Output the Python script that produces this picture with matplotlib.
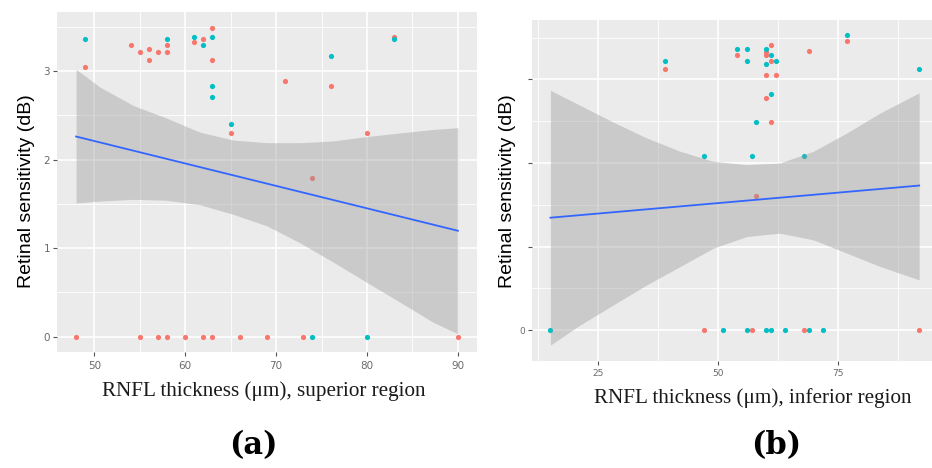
import numpy as np
import matplotlib
matplotlib.use('Agg')
import matplotlib.pyplot as plt
from matplotlib.ticker import FixedLocator

# ---------------- Data: panel (a) superior region ----------------
a_red_x = [49, 54, 55, 56, 56, 57, 58, 58, 61, 62, 63, 63, 65, 71, 74, 76, 80, 83,
           48, 55, 57, 58, 60, 62, 63, 66, 69, 73, 90]
a_red_y = [3.04, 3.29, 3.21, 3.25, 3.13, 3.21, 3.29, 3.21, 3.33, 3.36, 3.49, 3.13,
           2.30, 2.89, 1.79, 2.83, 2.30, 3.39,
           0, 0, 0, 0, 0, 0, 0, 0, 0, 0, 0]
a_cyan_x = [49, 58, 61, 62, 63, 63, 63, 65, 76, 83, 74, 80]
a_cyan_y = [3.36, 3.36, 3.39, 3.29, 3.39, 2.83, 2.71, 2.40, 3.17, 3.36, 0, 0]

a_fit_x = [48, 90]
a_fit_y = [2.26, 1.195]
a_band_x = [48, 50.6, 54.3, 57.9, 61.6, 65.3, 69.0, 72.6, 76.3, 80.0, 83.6, 87.3, 90]
a_band_hi = [3.02, 2.82, 2.61, 2.47, 2.31, 2.22, 2.19, 2.19, 2.21, 2.26, 2.30, 2.34, 2.36]
a_band_lo = [1.51, 1.53, 1.55, 1.54, 1.49, 1.38, 1.25, 1.06, 0.84, 0.61, 0.39, 0.16, 0.03]
a_xticks = [50, 60, 70, 80, 90]
a_yticks = [0, 1, 2, 3]
a_ytick_labels = ["0", "1", "2", "3"]

# ---------------- Data: panel (b) inferior region ----------------
b_red_x = [39, 54, 58, 60, 60, 60, 60, 61, 61, 61, 62, 69, 77, 47, 57, 68, 92]
b_red_y = [3.13, 3.29, 1.61, 3.33, 3.29, 3.05, 2.78, 3.41, 3.22, 2.49, 3.05, 3.34, 3.46,
           0, 0, 0, 0]
b_cyan_x = [39, 47, 54, 56, 56, 57, 58, 60, 60, 61, 61, 62, 68, 77, 92,
            15, 51, 56, 60, 61, 64, 69, 72]
b_cyan_y = [3.22, 2.08, 3.37, 3.37, 3.22, 2.08, 2.49, 3.37, 3.18, 3.29, 2.83, 3.22, 2.08,
            3.53, 3.13, 0, 0, 0, 0, 0, 0, 0, 0]

b_fit_x = [15, 92]
b_fit_y = [1.345, 1.73]
b_band_x = [15, 21.2, 28.1, 35.1, 42.1, 49.0, 56.0, 62.9, 69.9, 76.9, 83.9, 92]
b_band_hi = [2.87, 2.69, 2.49, 2.30, 2.14, 2.02, 1.98, 2.00, 2.14, 2.36, 2.60, 2.84]
b_band_lo = [-0.18, 0.06, 0.30, 0.54, 0.76, 0.98, 1.12, 1.16, 1.08, 0.92, 0.76, 0.60]
b_xticks = [25, 50, 75]
b_yticks = [0, 1, 2, 3]
b_ytick_labels = ["0", "", "", ""]

ylabel = "Retinal sensitivity (dB)"
a_xlabel = "RNFL thickness (\u03bcm), superior region"
b_xlabel = "RNFL thickness (\u03bcm), inferior region"

RED = "#F8766D"
CYAN = "#00BFC4"
BLUE = "#3366FF"
PANEL = "#EBEBEB"

W, H = 932, 468
fig = plt.figure(figsize=(W / 100, H / 100), dpi=100)
fig.patch.set_facecolor("white")


def px_axes(left, top, right, bottom):
    return fig.add_axes([left / W, 1 - bottom / H, (right - left) / W, (bottom - top) / H])


def style(ax, xlim, ylim, xticks, yticks, yticklabels, minor_x, minor_y, tick_fs, xpad):
    ax.set_facecolor(PANEL)
    for s in ax.spines.values():
        s.set_visible(False)
    ax.set_xlim(*xlim)
    ax.set_ylim(*ylim)
    ax.xaxis.set_major_locator(FixedLocator(xticks))
    ax.yaxis.set_major_locator(FixedLocator(yticks))
    ax.set_yticklabels(yticklabels)
    ax.xaxis.set_minor_locator(FixedLocator(minor_x))
    ax.yaxis.set_minor_locator(FixedLocator(minor_y))
    ax.grid(which="major", color="white", linewidth=1.2)
    ax.grid(which="minor", color="white", linewidth=0.6)
    ax.set_axisbelow(True)
    ax.tick_params(which="major", length=2.9, width=0.8, color="#555555",
                   labelcolor="#6a6a6a", labelsize=tick_fs)
    ax.tick_params(axis="x", which="major", pad=xpad)
    ax.tick_params(axis="y", which="major", pad=2)
    ax.tick_params(which="minor", length=0)


# ---------------- Panel (a) ----------------
axa = px_axes(57, 12, 477, 352)
style(axa, (45.9, 92.1), (-0.175, 3.667), a_xticks, a_yticks, a_ytick_labels,
      [55, 65, 75, 85], [0.5, 1.5, 2.5, 3.5], 7.5, 3.5)
axa.scatter(a_red_x, a_red_y, s=14, color=RED, linewidths=0, zorder=3)
axa.scatter(a_cyan_x, a_cyan_y, s=14, color=CYAN, linewidths=0, zorder=3)
axa.fill_between(a_band_x, a_band_lo, a_band_hi, color="#999999", alpha=0.4,
                 linewidth=0, zorder=4)
axa.plot(a_fit_x, a_fit_y, color=BLUE, linewidth=1.3, zorder=5)

# ---------------- Panel (b) ----------------
axb = px_axes(532, 19.7, 937.6, 360.6)
style(axb, (11.15, 95.85), (-0.366, 3.716), b_xticks, b_yticks, b_ytick_labels,
      [12.5, 37.5, 62.5, 87.5], [0.5, 1.5, 2.5, 3.5], 6.5, 3.5)
axb.scatter(b_red_x, b_red_y, s=14, color=RED, linewidths=0, zorder=3)
axb.scatter(b_cyan_x, b_cyan_y, s=14, color=CYAN, linewidths=0, zorder=3)
axb.fill_between(b_band_x, b_band_lo, b_band_hi, color="#999999", alpha=0.4,
                 linewidth=0, zorder=4)
axb.plot(b_fit_x, b_fit_y, color=BLUE, linewidth=1.3, zorder=5)

# ---------------- Text ----------------
def ftext(x, y, s, **kw):
    fig.text(x / W, 1 - y / H, s, ha="center", va="center", **kw)

ftext(27, 191, ylabel, rotation=90, fontsize=14, family="Liberation Sans", color="black")
ftext(508, 191, ylabel, rotation=90, fontsize=14, family="Liberation Sans", color="black")
ftext(264, 391, a_xlabel, fontsize=15.2, family="Liberation Serif", color="#1a1a1a")
ftext(753, 398, b_xlabel, fontsize=15.2, family="Liberation Serif", color="#1a1a1a")
ftext(253, 446, "(a)", fontsize=22, family="DejaVu Serif", weight="bold", color="black")
ftext(776, 446, "(b)", fontsize=22, family="DejaVu Serif", weight="bold", color="black")

fig.savefig("out.png", dpi=100, facecolor="white")
